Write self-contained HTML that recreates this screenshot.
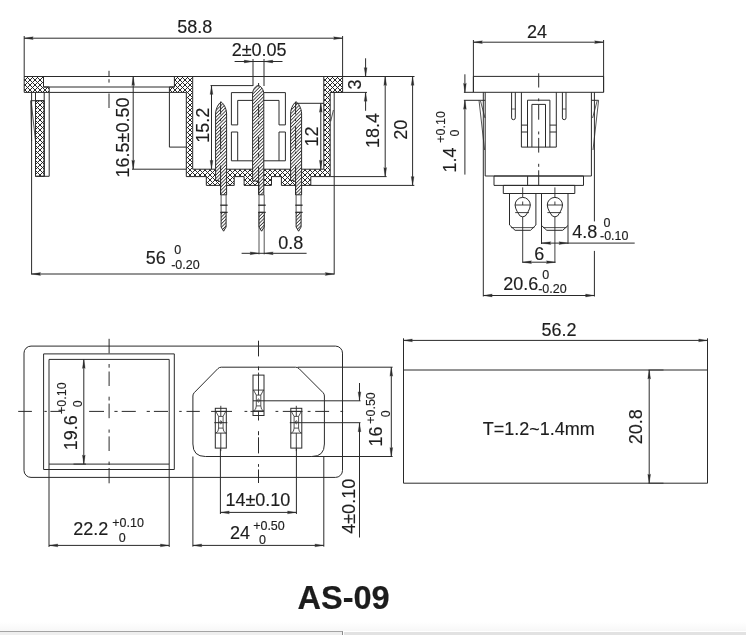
<!DOCTYPE html>
<html><head><meta charset="utf-8"><style>
html,body{margin:0;padding:0;background:#fff;}
body{width:746px;height:635px;overflow:hidden;position:relative;font-family:"Liberation Sans",sans-serif;}
svg{position:absolute;left:0;top:0;will-change:transform;}
text{-webkit-font-smoothing:antialiased;}
.strip1{position:absolute;left:0;top:631px;width:343px;height:4px;background:#efefef;border-top:1px solid #a4a4a4;border-right:1px solid #8a8a8a;box-sizing:border-box;}
.fade{position:absolute;left:0;top:622px;width:746px;height:9px;background:linear-gradient(#ffffff,#f7f7f7);}
.strip2{position:absolute;left:344px;top:632px;width:403px;height:3px;background:#e2e2e2;}
</style></head><body>
<svg width="746" height="635" viewBox="0 0 746 635">
<defs>
<pattern id="xh" patternUnits="userSpaceOnUse" x="0" y="0" width="5" height="5"><g fill="#2a2a2a"><rect x="0" y="0" width="1" height="1"/><rect x="4" y="0" width="1" height="1"/><rect x="1" y="1" width="1" height="1"/><rect x="3" y="1" width="1" height="1"/><rect x="2" y="2" width="1" height="1"/><rect x="3" y="3" width="1" height="1"/><rect x="1" y="3" width="1" height="1"/><rect x="4" y="4" width="1" height="1"/><rect x="0" y="4" width="1" height="1"/></g></pattern>
<pattern id="ph" patternUnits="userSpaceOnUse" width="2.4" height="10" patternTransform="rotate(45)">
<rect x="0" y="0" width="0.85" height="10" fill="#333"/>
</pattern>
</defs>
<rect width="746" height="635" fill="#fff"/>
<line x1="24.2" y1="36" x2="24.2" y2="76.5" stroke="#2a2a2a" stroke-width="1.0" />
<line x1="342.6" y1="36" x2="342.6" y2="76.5" stroke="#2a2a2a" stroke-width="1.0" />
<line x1="24.2" y1="38.2" x2="342.6" y2="38.2" stroke="#2a2a2a" stroke-width="1.0" />
<polygon points="24.20,38.20 33.20,36.80 32.30,38.20 33.20,39.60" fill="#2a2a2a" stroke="#2a2a2a" stroke-width="0.3"/>
<polygon points="342.60,38.20 333.60,39.60 334.50,38.20 333.60,36.80" fill="#2a2a2a" stroke="#2a2a2a" stroke-width="0.3"/>
<text x="194.65" y="33.4" text-anchor="middle" font-family='"Liberation Sans", sans-serif' font-size="18" font-weight="normal" fill="#1e1e1e" stroke="#1e1e1e" stroke-width="0.15">58.8</text>
<line x1="24.2" y1="76.5" x2="414.5" y2="76.5" stroke="#2a2a2a" stroke-width="1.0" />
<polygon points="24.2,76.5 43.5,76.5 43.5,87 49.2,87 49.2,92.4 24.2,92.4" fill="url(#xh)" stroke="#2a2a2a" stroke-width="1.0"/>
<line x1="43.5" y1="87" x2="174.4" y2="87" stroke="#2a2a2a" stroke-width="1.0" />
<line x1="49.2" y1="92.4" x2="169.4" y2="92.4" stroke="#2a2a2a" stroke-width="1.0" />
<line x1="31.6" y1="92.4" x2="31.6" y2="274.5" stroke="#2a2a2a" stroke-width="1.0" />
<line x1="35.5" y1="92.4" x2="35.5" y2="176.3" stroke="#2a2a2a" stroke-width="1.0" />
<polygon points="35.5,100.7 44.2,100.7 44.2,176.3 35.5,176.3" fill="url(#xh)" stroke="#2a2a2a" stroke-width="1.0"/>
<line x1="44.2" y1="92.4" x2="44.2" y2="176.3" stroke="#2a2a2a" stroke-width="1.0" />
<line x1="49.2" y1="92.4" x2="49.2" y2="176.3" stroke="#2a2a2a" stroke-width="1.0" />
<line x1="35.5" y1="176.3" x2="49.2" y2="176.3" stroke="#2a2a2a" stroke-width="1.0" />
<line x1="30.7" y1="100.7" x2="44.2" y2="100.7" stroke="#2a2a2a" stroke-width="1.0" />
<line x1="30.7" y1="100.7" x2="31.6" y2="141" stroke="#2a2a2a" stroke-width="0.8" />
<line x1="31.2" y1="101.5" x2="35.5" y2="141" stroke="#2a2a2a" stroke-width="0.8" />
<polygon points="174.4,76.5 192.7,76.5 192.7,169.2 323.8,169.2 323.8,76.5 342.6,76.5 342.6,92.4 330.2,92.4 330.2,176.6 310.8,176.6 310.8,185.4 281.4,185.4 281.4,176.6 271.5,176.6 271.5,185.4 244.1,185.4 244.1,176.6 234.2,176.6 234.2,185.4 206.3,185.4 206.3,176.6 186.3,176.6 186.3,92.4 169.4,92.4 169.4,87 174.4,87" fill="url(#xh)" stroke="#2a2a2a" stroke-width="1.0"/>
<line x1="334.2" y1="92.4" x2="334.2" y2="274.5" stroke="#2a2a2a" stroke-width="1.0" />
<line x1="333.4" y1="110" x2="330.7" y2="121.4" stroke="#2a2a2a" stroke-width="0.8" />
<line x1="169.4" y1="92.4" x2="169.4" y2="147.1" stroke="#2a2a2a" stroke-width="1.0" />
<line x1="169.4" y1="147.1" x2="186.3" y2="147.1" stroke="#2a2a2a" stroke-width="1.0" />
<path d="M231.4,124.9 V92.6 H285.4 V124.9 H279 V100.4 H237.7 V124.9 Z" fill="none" stroke="#2a2a2a" stroke-width="1.0" />
<path d="M231.4,132 V160.8 H285.4 V132 H279 V160.8 M237.7,160.8 V132 H231.4" fill="none" stroke="#2a2a2a" stroke-width="1.0" />
<path d="M215.6,180.5 V114 C215.6,108 219.1,103 221.1,102 C223.1,103 226.6,108 226.6,114 V194.8 H220.6 V182 L218.2,180.5 Z" fill="#fff" stroke="none"/>
<path d="M215.6,180.5 V114 C215.6,108 219.1,103 221.1,102 C223.1,103 226.6,108 226.6,114 V194.8 H220.6 V182 L218.2,180.5 Z" fill="url(#ph)" stroke="#2a2a2a" stroke-width="1.0"/>
<line x1="221.1" y1="194.8" x2="221.1" y2="212.4" stroke="#2a2a2a" stroke-width="0.8" />
<line x1="226.1" y1="194.8" x2="226.1" y2="212.4" stroke="#2a2a2a" stroke-width="0.8" />
<line x1="220.29999999999998" y1="205.2" x2="227.6" y2="205.2" stroke="#2a2a2a" stroke-width="1.3" />
<line x1="220.29999999999998" y1="212.4" x2="227.6" y2="212.4" stroke="#2a2a2a" stroke-width="1.3" />
<path d="M221.1,212.4 H226.1 V227 L223.6,231.2 L221.1,227 Z" fill="#fff" stroke="none"/>
<path d="M221.1,212.4 H226.1 V227 L223.6,231.2 L221.1,227 Z" fill="url(#ph)" stroke="#2a2a2a" stroke-width="1.0"/>
<path d="M252.6,181 V94 C252.6,89.5 255.6,85.8 258.2,85.6 C260.8,85.8 263.8,89.5 263.8,94 V194.8 H258.8 V182 L256.40000000000003,181 Z" fill="#fff" stroke="none"/>
<path d="M252.6,181 V94 C252.6,89.5 255.6,85.8 258.2,85.6 C260.8,85.8 263.8,89.5 263.8,94 V194.8 H258.8 V182 L256.40000000000003,181 Z" fill="url(#ph)" stroke="#2a2a2a" stroke-width="1.0"/>
<line x1="259.0" y1="194.8" x2="259.0" y2="254.4" stroke="#2a2a2a" stroke-width="0.8" />
<line x1="264.2" y1="194.8" x2="264.2" y2="254.4" stroke="#2a2a2a" stroke-width="0.8" />
<line x1="258.2" y1="205.2" x2="265.7" y2="205.2" stroke="#2a2a2a" stroke-width="1.3" />
<line x1="258.2" y1="212.4" x2="265.7" y2="212.4" stroke="#2a2a2a" stroke-width="1.3" />
<path d="M259.0,212.4 H264.2 V227 L261.6,231.2 L259.0,227 Z" fill="#fff" stroke="none"/>
<path d="M259.0,212.4 H264.2 V227 L261.6,231.2 L259.0,227 Z" fill="url(#ph)" stroke="#2a2a2a" stroke-width="1.0"/>
<path d="M290.6,180.5 V113.8 C290.6,107.8 294.1,102.8 296.1,101.8 C298.1,102.8 301.6,107.8 301.6,113.8 V194.8 H295.6 V182 L293.20000000000005,180.5 Z" fill="#fff" stroke="none"/>
<path d="M290.6,180.5 V113.8 C290.6,107.8 294.1,102.8 296.1,101.8 C298.1,102.8 301.6,107.8 301.6,113.8 V194.8 H295.6 V182 L293.20000000000005,180.5 Z" fill="url(#ph)" stroke="#2a2a2a" stroke-width="1.0"/>
<line x1="296.1" y1="194.8" x2="296.1" y2="212.4" stroke="#2a2a2a" stroke-width="0.8" />
<line x1="301.1" y1="194.8" x2="301.1" y2="212.4" stroke="#2a2a2a" stroke-width="0.8" />
<line x1="295.3" y1="205.2" x2="302.6" y2="205.2" stroke="#2a2a2a" stroke-width="1.3" />
<line x1="295.3" y1="212.4" x2="302.6" y2="212.4" stroke="#2a2a2a" stroke-width="1.3" />
<path d="M296.1,212.4 H301.1 V227 L298.6,231.2 L296.1,227 Z" fill="#fff" stroke="none"/>
<path d="M296.1,212.4 H301.1 V227 L298.6,231.2 L296.1,227 Z" fill="url(#ph)" stroke="#2a2a2a" stroke-width="1.0"/>
<line x1="258.6" y1="83" x2="258.6" y2="86.5" stroke="#2a2a2a" stroke-width="1.0" />
<line x1="258.6" y1="104.2" x2="258.6" y2="117.2" stroke="#2a2a2a" stroke-width="1.0" />
<line x1="258.6" y1="121.5" x2="258.6" y2="124.5" stroke="#2a2a2a" stroke-width="1.0" />
<line x1="258.6" y1="136.6" x2="258.6" y2="149.8" stroke="#2a2a2a" stroke-width="1.0" />
<line x1="258.6" y1="153.1" x2="258.6" y2="157.5" stroke="#2a2a2a" stroke-width="1.0" />
<line x1="258.6" y1="166.4" x2="258.6" y2="194.8" stroke="#2a2a2a" stroke-width="1.0" />
<line x1="220.6" y1="101.6" x2="220.6" y2="114.5" stroke="#2a2a2a" stroke-width="1.0" />
<line x1="220.6" y1="118.7" x2="220.6" y2="121.2" stroke="#2a2a2a" stroke-width="1.0" />
<line x1="220.6" y1="126.2" x2="220.6" y2="149.2" stroke="#2a2a2a" stroke-width="1.0" />
<line x1="220.6" y1="151.7" x2="220.6" y2="153.8" stroke="#2a2a2a" stroke-width="1.0" />
<line x1="220.6" y1="165.5" x2="220.6" y2="194.8" stroke="#2a2a2a" stroke-width="1.0" />
<line x1="295.6" y1="101.8" x2="295.6" y2="114.5" stroke="#2a2a2a" stroke-width="1.0" />
<line x1="295.6" y1="118.7" x2="295.6" y2="121.2" stroke="#2a2a2a" stroke-width="1.0" />
<line x1="295.6" y1="126.2" x2="295.6" y2="149.2" stroke="#2a2a2a" stroke-width="1.0" />
<line x1="295.6" y1="151.7" x2="295.6" y2="153.8" stroke="#2a2a2a" stroke-width="1.0" />
<line x1="295.6" y1="165.5" x2="295.6" y2="194.8" stroke="#2a2a2a" stroke-width="1.0" />
<line x1="109" y1="70.8" x2="109" y2="76.1" stroke="#2a2a2a" stroke-width="1.0" />
<line x1="109" y1="79.2" x2="109" y2="82.6" stroke="#2a2a2a" stroke-width="1.0" />
<line x1="109" y1="93.5" x2="109" y2="108" stroke="#2a2a2a" stroke-width="1.0" />
<line x1="133.2" y1="76.5" x2="133.2" y2="169.2" stroke="#2a2a2a" stroke-width="1.0" />
<polygon points="133.20,76.50 134.60,85.50 133.20,84.60 131.80,85.50" fill="#2a2a2a" stroke="#2a2a2a" stroke-width="0.3"/>
<polygon points="133.20,169.20 131.80,160.20 133.20,161.10 134.60,160.20" fill="#2a2a2a" stroke="#2a2a2a" stroke-width="0.3"/>
<line x1="132" y1="169.2" x2="186.3" y2="169.2" stroke="#2a2a2a" stroke-width="1.0" />
<text transform="translate(128.9,137.45) rotate(-90)" text-anchor="middle" font-family='"Liberation Sans", sans-serif' font-size="18" font-weight="normal" fill="#1e1e1e" stroke="#1e1e1e" stroke-width="0.15">16.5±0.50</text>
<line x1="211.5" y1="85.6" x2="211.5" y2="169.2" stroke="#2a2a2a" stroke-width="1.0" />
<polygon points="211.50,85.60 212.90,94.60 211.50,93.70 210.10,94.60" fill="#2a2a2a" stroke="#2a2a2a" stroke-width="0.3"/>
<polygon points="211.50,169.20 210.10,160.20 211.50,161.10 212.90,160.20" fill="#2a2a2a" stroke="#2a2a2a" stroke-width="0.3"/>
<line x1="210.5" y1="85.6" x2="253" y2="85.6" stroke="#2a2a2a" stroke-width="1.0" />
<text transform="translate(209.3,125.15) rotate(-90)" text-anchor="middle" font-family='"Liberation Sans", sans-serif' font-size="18" font-weight="normal" fill="#1e1e1e" stroke="#1e1e1e" stroke-width="0.15">15.2</text>
<line x1="253" y1="59" x2="253" y2="86" stroke="#2a2a2a" stroke-width="1.0" />
<line x1="264" y1="59" x2="264" y2="86" stroke="#2a2a2a" stroke-width="1.0" />
<line x1="234.6" y1="61.5" x2="282.5" y2="61.5" stroke="#2a2a2a" stroke-width="1.0" />
<polygon points="253.00,61.50 244.00,62.90 244.90,61.50 244.00,60.10" fill="#2a2a2a" stroke="#2a2a2a" stroke-width="0.3"/>
<polygon points="264.00,61.50 273.00,60.10 272.10,61.50 273.00,62.90" fill="#2a2a2a" stroke="#2a2a2a" stroke-width="0.3"/>
<text x="259.1" y="56.1" text-anchor="middle" font-family='"Liberation Sans", sans-serif' font-size="18" font-weight="normal" fill="#1e1e1e" stroke="#1e1e1e" stroke-width="0.15">2±0.05</text>
<line x1="296" y1="103.3" x2="324" y2="103.3" stroke="#2a2a2a" stroke-width="1.0" />
<line x1="320.8" y1="103.3" x2="320.8" y2="169.2" stroke="#2a2a2a" stroke-width="1.0" />
<polygon points="320.80,103.30 322.20,112.30 320.80,111.40 319.40,112.30" fill="#2a2a2a" stroke="#2a2a2a" stroke-width="0.3"/>
<polygon points="320.80,169.20 319.40,160.20 320.80,161.10 322.20,160.20" fill="#2a2a2a" stroke="#2a2a2a" stroke-width="0.3"/>
<text transform="translate(317.9,136.55) rotate(-90)" text-anchor="middle" font-family='"Liberation Sans", sans-serif' font-size="18" font-weight="normal" fill="#1e1e1e" stroke="#1e1e1e" stroke-width="0.15">12</text>
<line x1="365.6" y1="58.3" x2="365.6" y2="76.5" stroke="#2a2a2a" stroke-width="1.0" />
<polygon points="365.60,76.50 364.20,67.50 365.60,68.40 367.00,67.50" fill="#2a2a2a" stroke="#2a2a2a" stroke-width="0.3"/>
<line x1="365.6" y1="92.4" x2="365.6" y2="110.8" stroke="#2a2a2a" stroke-width="1.0" />
<polygon points="365.60,92.40 367.00,101.40 365.60,100.50 364.20,101.40" fill="#2a2a2a" stroke="#2a2a2a" stroke-width="0.3"/>
<line x1="330.2" y1="92.4" x2="367" y2="92.4" stroke="#2a2a2a" stroke-width="1.0" />
<text transform="translate(361.0,84.45) rotate(-90)" text-anchor="middle" font-family='"Liberation Sans", sans-serif' font-size="18" font-weight="normal" fill="#1e1e1e" stroke="#1e1e1e" stroke-width="0.15">3</text>
<line x1="385.2" y1="76.5" x2="385.2" y2="176.6" stroke="#2a2a2a" stroke-width="1.0" />
<polygon points="385.20,76.50 386.60,85.50 385.20,84.60 383.80,85.50" fill="#2a2a2a" stroke="#2a2a2a" stroke-width="0.3"/>
<polygon points="385.20,176.60 383.80,167.60 385.20,168.50 386.60,167.60" fill="#2a2a2a" stroke="#2a2a2a" stroke-width="0.3"/>
<line x1="330.2" y1="176.6" x2="386.6" y2="176.6" stroke="#2a2a2a" stroke-width="1.0" />
<text transform="translate(379.4,130.45) rotate(-90)" text-anchor="middle" font-family='"Liberation Sans", sans-serif' font-size="18" font-weight="normal" fill="#1e1e1e" stroke="#1e1e1e" stroke-width="0.15">18.4</text>
<line x1="412.6" y1="76.5" x2="412.6" y2="185.4" stroke="#2a2a2a" stroke-width="1.0" />
<polygon points="412.60,76.50 414.00,85.50 412.60,84.60 411.20,85.50" fill="#2a2a2a" stroke="#2a2a2a" stroke-width="0.3"/>
<polygon points="412.60,185.40 411.20,176.40 412.60,177.30 414.00,176.40" fill="#2a2a2a" stroke="#2a2a2a" stroke-width="0.3"/>
<line x1="310.8" y1="185.4" x2="414.3" y2="185.4" stroke="#2a2a2a" stroke-width="1.0" />
<text transform="translate(406.8,129.75) rotate(-90)" text-anchor="middle" font-family='"Liberation Sans", sans-serif' font-size="18" font-weight="normal" fill="#1e1e1e" stroke="#1e1e1e" stroke-width="0.15">20</text>
<line x1="31.6" y1="274" x2="334.2" y2="274" stroke="#2a2a2a" stroke-width="1.0" />
<polygon points="31.60,274.00 40.60,272.60 39.70,274.00 40.60,275.40" fill="#2a2a2a" stroke="#2a2a2a" stroke-width="0.3"/>
<polygon points="334.20,274.00 325.20,275.40 326.10,274.00 325.20,272.60" fill="#2a2a2a" stroke="#2a2a2a" stroke-width="0.3"/>
<text x="155.8" y="264.4" text-anchor="middle" font-family='"Liberation Sans", sans-serif' font-size="18" font-weight="normal" fill="#1e1e1e" stroke="#1e1e1e" stroke-width="0.15">56</text>
<text x="177.7" y="253.9" text-anchor="middle" font-family='"Liberation Sans", sans-serif' font-size="12.5" font-weight="normal" fill="#1e1e1e" stroke="#1e1e1e" stroke-width="0.15">0</text>
<text x="185.45" y="268.6" text-anchor="middle" font-family='"Liberation Sans", sans-serif' font-size="12.5" font-weight="normal" fill="#1e1e1e" stroke="#1e1e1e" stroke-width="0.15">-0.20</text>
<line x1="241.6" y1="253.3" x2="306.6" y2="253.3" stroke="#2a2a2a" stroke-width="1.0" />
<polygon points="259.00,253.30 250.00,254.70 250.90,253.30 250.00,251.90" fill="#2a2a2a" stroke="#2a2a2a" stroke-width="0.3"/>
<polygon points="264.20,253.30 273.20,251.90 272.30,253.30 273.20,254.70" fill="#2a2a2a" stroke="#2a2a2a" stroke-width="0.3"/>
<text x="290.8" y="248.95" text-anchor="middle" font-family='"Liberation Sans", sans-serif' font-size="18" font-weight="normal" fill="#1e1e1e" stroke="#1e1e1e" stroke-width="0.15">0.8</text>
<line x1="473.4" y1="40" x2="473.4" y2="92.3" stroke="#2a2a2a" stroke-width="1.0" />
<line x1="603.6" y1="40" x2="603.6" y2="92.3" stroke="#2a2a2a" stroke-width="1.0" />
<line x1="473.4" y1="42.2" x2="603.6" y2="42.2" stroke="#2a2a2a" stroke-width="1.0" />
<polygon points="473.40,42.20 482.40,40.80 481.50,42.20 482.40,43.60" fill="#2a2a2a" stroke="#2a2a2a" stroke-width="0.3"/>
<polygon points="603.60,42.20 594.60,43.60 595.50,42.20 594.60,40.80" fill="#2a2a2a" stroke="#2a2a2a" stroke-width="0.3"/>
<text x="537.05" y="37.8" text-anchor="middle" font-family='"Liberation Sans", sans-serif' font-size="18" font-weight="normal" fill="#1e1e1e" stroke="#1e1e1e" stroke-width="0.15">24</text>
<polygon points="473.4,76.4 603.6,76.4 603.6,92.3 473.4,92.3" fill="none" stroke="#2a2a2a" stroke-width="1.0" />
<line x1="463.9" y1="92.3" x2="473.4" y2="92.3" stroke="#2a2a2a" stroke-width="1.0" />
<line x1="464.9" y1="74.3" x2="464.9" y2="92.3" stroke="#2a2a2a" stroke-width="1.0" />
<polygon points="464.90,92.30 463.50,83.30 464.90,84.20 466.30,83.30" fill="#2a2a2a" stroke="#2a2a2a" stroke-width="0.3"/>
<line x1="464.9" y1="100.3" x2="464.9" y2="174.6" stroke="#2a2a2a" stroke-width="1.0" />
<polygon points="464.90,100.30 466.30,109.30 464.90,108.40 463.50,109.30" fill="#2a2a2a" stroke="#2a2a2a" stroke-width="0.3"/>
<line x1="463.9" y1="100.3" x2="485.2" y2="100.3" stroke="#2a2a2a" stroke-width="1.0" />
<text transform="translate(455.9,159.9) rotate(-90)" text-anchor="middle" font-family='"Liberation Sans", sans-serif' font-size="18" font-weight="normal" fill="#1e1e1e" stroke="#1e1e1e" stroke-width="0.15">1.4</text>
<text transform="translate(444.7,126.9) rotate(-90)" text-anchor="middle" font-family='"Liberation Sans", sans-serif' font-size="12.5" font-weight="normal" fill="#1e1e1e" stroke="#1e1e1e" stroke-width="0.15">+0.10</text>
<text transform="translate(459.2,133.0) rotate(-90)" text-anchor="middle" font-family='"Liberation Sans", sans-serif' font-size="12.5" font-weight="normal" fill="#1e1e1e" stroke="#1e1e1e" stroke-width="0.15">0</text>
<line x1="483.3" y1="92.3" x2="483.3" y2="296.5" stroke="#2a2a2a" stroke-width="1.0" />
<line x1="485.2" y1="92.3" x2="485.2" y2="176" stroke="#2a2a2a" stroke-width="1.0" />
<line x1="591.4" y1="92.3" x2="591.4" y2="176" stroke="#2a2a2a" stroke-width="1.0" />
<line x1="594.4" y1="92.3" x2="594.4" y2="221.4" stroke="#2a2a2a" stroke-width="1.0" />
<line x1="594.4" y1="250.9" x2="594.4" y2="296.5" stroke="#2a2a2a" stroke-width="1.0" />
<line x1="485.2" y1="176" x2="591.4" y2="176" stroke="#2a2a2a" stroke-width="1.0" />
<line x1="479" y1="100.3" x2="484.6" y2="150" stroke="#2a2a2a" stroke-width="0.8" />
<line x1="480.5" y1="101" x2="485" y2="118" stroke="#2a2a2a" stroke-width="0.8" />
<line x1="598.6" y1="100.3" x2="593" y2="150" stroke="#2a2a2a" stroke-width="0.8" />
<line x1="597.1" y1="101" x2="592.6" y2="118" stroke="#2a2a2a" stroke-width="0.8" />
<line x1="591.4" y1="100.3" x2="598.6" y2="100.3" stroke="#2a2a2a" stroke-width="1.0" />
<path d="M511.6,92.3 V117.9 Q511.6,119.7 513.45,119.7 Q515.3,119.7 515.3,117.9 V92.3" fill="none" stroke="#2a2a2a" stroke-width="1.0" />
<path d="M562.4,92.3 V117.9 Q562.4,119.7 564.2,119.7 Q566,119.7 566,117.9 V92.3" fill="none" stroke="#2a2a2a" stroke-width="1.0" />
<line x1="511.6" y1="109" x2="515.3" y2="109" stroke="#2a2a2a" stroke-width="0.7" />
<line x1="562.4" y1="109" x2="566" y2="109" stroke="#2a2a2a" stroke-width="0.7" />
<path d="M521.4,92.3 V147.1 H556.3 V92.3" fill="none" stroke="#2a2a2a" stroke-width="1.0" />
<path d="M527.5,147.1 V100.2 H549.9 V147.1" fill="none" stroke="#2a2a2a" stroke-width="1.0" />
<path d="M531.9,147.1 V104.4 H545.5 V147.1" fill="none" stroke="#2a2a2a" stroke-width="1.0" />
<line x1="521.4" y1="125.1" x2="527.5" y2="125.1" stroke="#2a2a2a" stroke-width="1.0" />
<line x1="521.4" y1="132" x2="527.5" y2="132" stroke="#2a2a2a" stroke-width="1.0" />
<line x1="549.9" y1="125.1" x2="556.3" y2="125.1" stroke="#2a2a2a" stroke-width="1.0" />
<line x1="549.9" y1="132" x2="556.3" y2="132" stroke="#2a2a2a" stroke-width="1.0" />
<polygon points="494,176 583.5,176 583.5,185.4 494,185.4" fill="none" stroke="#2a2a2a" stroke-width="1.0" />
<line x1="527.6" y1="176" x2="527.6" y2="185.4" stroke="#2a2a2a" stroke-width="1.0" />
<polygon points="503.3,185.4 574.8,185.4 574.8,193.5 503.3,193.5" fill="none" stroke="#2a2a2a" stroke-width="1.0" />
<path d="M509.5,193.5 V225 L515.1,230.3 H530.5 L535.9,225 V193.5" fill="none" stroke="#2a2a2a" stroke-width="1.0" />
<line x1="541.5" y1="193.5" x2="541.5" y2="244" stroke="#2a2a2a" stroke-width="1.0" />
<line x1="568" y1="193.5" x2="568" y2="244" stroke="#2a2a2a" stroke-width="1.0" />
<path d="M541.5,225.5 L546.8,230.3 H562.7 L568,225.5" fill="none" stroke="#2a2a2a" stroke-width="1.0" />
<line x1="511" y1="227.6" x2="534.4" y2="227.6" stroke="#2a2a2a" stroke-width="0.8" />
<line x1="543" y1="227.6" x2="566.5" y2="227.6" stroke="#2a2a2a" stroke-width="0.8" />
<path d="M515.1,205 A7.6,7.6 0 0 1 530.3000000000001,205 C530.3000000000001,209 526.9000000000001,213.8 525.3000000000001,216 Q522.7,217.6 520.1,216 C518.5,213.8 515.1,209 515.1,205 Z" fill="none" stroke="#2a2a2a" stroke-width="1.0" />
<line x1="514.9000000000001" y1="205" x2="530.5" y2="205" stroke="#2a2a2a" stroke-width="0.9" />
<line x1="515.2" y1="212.6" x2="529.0" y2="212.6" stroke="#2a2a2a" stroke-width="0.9" />
<line x1="522.7" y1="187.4" x2="522.7" y2="197.4" stroke="#2a2a2a" stroke-width="0.9" />
<line x1="522.7" y1="201.5" x2="522.7" y2="205" stroke="#2a2a2a" stroke-width="0.9" />
<line x1="522.7" y1="217" x2="522.7" y2="262.7" stroke="#2a2a2a" stroke-width="0.9" />
<path d="M547.3,205 A7.6,7.6 0 0 1 562.5,205 C562.5,209 559.1,213.8 557.5,216 Q554.9,217.6 552.3,216 C550.6999999999999,213.8 547.3,209 547.3,205 Z" fill="none" stroke="#2a2a2a" stroke-width="1.0" />
<line x1="547.1" y1="205" x2="562.6999999999999" y2="205" stroke="#2a2a2a" stroke-width="0.9" />
<line x1="547.4" y1="212.6" x2="561.1999999999999" y2="212.6" stroke="#2a2a2a" stroke-width="0.9" />
<line x1="554.9" y1="187.4" x2="554.9" y2="197.4" stroke="#2a2a2a" stroke-width="0.9" />
<line x1="554.9" y1="201.5" x2="554.9" y2="205" stroke="#2a2a2a" stroke-width="0.9" />
<line x1="554.9" y1="217" x2="554.9" y2="262.7" stroke="#2a2a2a" stroke-width="0.9" />
<line x1="538.7" y1="73.3" x2="538.7" y2="87.5" stroke="#2a2a2a" stroke-width="1.0" />
<line x1="538.7" y1="98.4" x2="538.7" y2="101.2" stroke="#2a2a2a" stroke-width="1.0" />
<line x1="538.7" y1="105" x2="538.7" y2="119.7" stroke="#2a2a2a" stroke-width="1.0" />
<line x1="538.7" y1="131.5" x2="538.7" y2="134.4" stroke="#2a2a2a" stroke-width="1.0" />
<line x1="538.7" y1="137.9" x2="538.7" y2="152.6" stroke="#2a2a2a" stroke-width="1.0" />
<line x1="538.7" y1="163.8" x2="538.7" y2="166.8" stroke="#2a2a2a" stroke-width="1.0" />
<line x1="538.7" y1="170.3" x2="538.7" y2="185.6" stroke="#2a2a2a" stroke-width="1.0" />
<line x1="522.5" y1="262.2" x2="555.4" y2="262.2" stroke="#2a2a2a" stroke-width="1.0" />
<polygon points="522.50,262.20 531.50,260.80 530.60,262.20 531.50,263.60" fill="#2a2a2a" stroke="#2a2a2a" stroke-width="0.3"/>
<polygon points="555.40,262.20 546.40,263.60 547.30,262.20 546.40,260.80" fill="#2a2a2a" stroke="#2a2a2a" stroke-width="0.3"/>
<text x="539.2" y="260.1" text-anchor="middle" font-family='"Liberation Sans", sans-serif' font-size="18" font-weight="normal" fill="#1e1e1e" stroke="#1e1e1e" stroke-width="0.15">6</text>
<line x1="541.8" y1="243.1" x2="634.7" y2="243.1" stroke="#2a2a2a" stroke-width="1.0" />
<polygon points="541.80,243.10 550.80,241.70 549.90,243.10 550.80,244.50" fill="#2a2a2a" stroke="#2a2a2a" stroke-width="0.3"/>
<polygon points="568.00,243.10 559.00,244.50 559.90,243.10 559.00,241.70" fill="#2a2a2a" stroke="#2a2a2a" stroke-width="0.3"/>
<text x="584.85" y="237.6" text-anchor="middle" font-family='"Liberation Sans", sans-serif' font-size="18" font-weight="normal" fill="#1e1e1e" stroke="#1e1e1e" stroke-width="0.15">4.8</text>
<text x="606.95" y="227.0" text-anchor="middle" font-family='"Liberation Sans", sans-serif' font-size="12.5" font-weight="normal" fill="#1e1e1e" stroke="#1e1e1e" stroke-width="0.15">0</text>
<text x="614.25" y="240.4" text-anchor="middle" font-family='"Liberation Sans", sans-serif' font-size="12.5" font-weight="normal" fill="#1e1e1e" stroke="#1e1e1e" stroke-width="0.15">-0.10</text>
<line x1="483.3" y1="295.5" x2="594.4" y2="295.5" stroke="#2a2a2a" stroke-width="1.0" />
<polygon points="483.30,295.50 492.30,294.10 491.40,295.50 492.30,296.90" fill="#2a2a2a" stroke="#2a2a2a" stroke-width="0.3"/>
<polygon points="594.40,295.50 585.40,296.90 586.30,295.50 585.40,294.10" fill="#2a2a2a" stroke="#2a2a2a" stroke-width="0.3"/>
<text x="520.7" y="289.6" text-anchor="middle" font-family='"Liberation Sans", sans-serif' font-size="18" font-weight="normal" fill="#1e1e1e" stroke="#1e1e1e" stroke-width="0.15">20.6</text>
<text x="545.85" y="279.4" text-anchor="middle" font-family='"Liberation Sans", sans-serif' font-size="12.5" font-weight="normal" fill="#1e1e1e" stroke="#1e1e1e" stroke-width="0.15">0</text>
<text x="552.4" y="292.6" text-anchor="middle" font-family='"Liberation Sans", sans-serif' font-size="12.5" font-weight="normal" fill="#1e1e1e" stroke="#1e1e1e" stroke-width="0.15">-0.20</text>
<rect x="24" y="346.1" width="318.5" height="131.3" rx="7" ry="7" fill="none" stroke="#2a2a2a" stroke-width="1.0"/>
<polygon points="43.6,353.9 174.3,353.9 174.3,469.5 43.6,469.5" fill="none" stroke="#2a2a2a" stroke-width="1.0" />
<polygon points="49,359.4 169.2,359.4 169.2,464.1 49,464.1" fill="none" stroke="#2a2a2a" stroke-width="1.0" />
<line x1="109.1" y1="338.8" x2="109.1" y2="353.3" stroke="#2a2a2a" stroke-width="1.0" />
<line x1="109.1" y1="364" x2="109.1" y2="367.7" stroke="#2a2a2a" stroke-width="1.0" />
<line x1="109.1" y1="371.5" x2="109.1" y2="386" stroke="#2a2a2a" stroke-width="1.0" />
<line x1="109.1" y1="396.7" x2="109.1" y2="400.5" stroke="#2a2a2a" stroke-width="1.0" />
<line x1="109.1" y1="403.6" x2="109.1" y2="418.2" stroke="#2a2a2a" stroke-width="1.0" />
<line x1="109.1" y1="429.5" x2="109.1" y2="432.7" stroke="#2a2a2a" stroke-width="1.0" />
<line x1="109.1" y1="436.4" x2="109.1" y2="451" stroke="#2a2a2a" stroke-width="1.0" />
<line x1="109.1" y1="461.6" x2="109.1" y2="465" stroke="#2a2a2a" stroke-width="1.0" />
<line x1="109.1" y1="468" x2="109.1" y2="483.3" stroke="#2a2a2a" stroke-width="1.0" />
<line x1="18.2" y1="411.4" x2="31.9" y2="411.4" stroke="#2a2a2a" stroke-width="1.0" />
<line x1="44.4" y1="411.4" x2="46.8" y2="411.4" stroke="#2a2a2a" stroke-width="1.0" />
<line x1="50.4" y1="411.4" x2="61" y2="411.4" stroke="#2a2a2a" stroke-width="1.0" />
<line x1="89.1" y1="411.4" x2="104" y2="411.4" stroke="#2a2a2a" stroke-width="1.0" />
<line x1="114.4" y1="411.4" x2="117.6" y2="411.4" stroke="#2a2a2a" stroke-width="1.0" />
<line x1="121.7" y1="411.4" x2="135.8" y2="411.4" stroke="#2a2a2a" stroke-width="1.0" />
<line x1="146.7" y1="411.4" x2="149.9" y2="411.4" stroke="#2a2a2a" stroke-width="1.0" />
<line x1="153.9" y1="411.4" x2="168" y2="411.4" stroke="#2a2a2a" stroke-width="1.0" />
<line x1="179.2" y1="411.4" x2="181.7" y2="411.4" stroke="#2a2a2a" stroke-width="1.0" />
<line x1="186.5" y1="411.4" x2="199.8" y2="411.4" stroke="#2a2a2a" stroke-width="1.0" />
<line x1="211.1" y1="411.4" x2="232" y2="411.4" stroke="#2a2a2a" stroke-width="1.0" />
<line x1="244.5" y1="411.4" x2="247.3" y2="411.4" stroke="#2a2a2a" stroke-width="1.0" />
<line x1="250.5" y1="411.4" x2="263.8" y2="411.4" stroke="#2a2a2a" stroke-width="1.0" />
<line x1="275.5" y1="411.4" x2="278.3" y2="411.4" stroke="#2a2a2a" stroke-width="1.0" />
<line x1="282.8" y1="411.4" x2="302.5" y2="411.4" stroke="#2a2a2a" stroke-width="1.0" />
<line x1="307.7" y1="411.4" x2="310.5" y2="411.4" stroke="#2a2a2a" stroke-width="1.0" />
<line x1="315.2" y1="411.4" x2="329.1" y2="411.4" stroke="#2a2a2a" stroke-width="1.0" />
<line x1="340.4" y1="411.4" x2="343.1" y2="411.4" stroke="#2a2a2a" stroke-width="1.0" />
<line x1="258.5" y1="340.7" x2="258.5" y2="356.4" stroke="#2a2a2a" stroke-width="1.0" />
<line x1="258.5" y1="366.5" x2="258.5" y2="370.3" stroke="#2a2a2a" stroke-width="1.0" />
<line x1="258.5" y1="418" x2="258.5" y2="420.5" stroke="#2a2a2a" stroke-width="1.0" />
<line x1="258.5" y1="431.2" x2="258.5" y2="435.2" stroke="#2a2a2a" stroke-width="1.0" />
<line x1="258.5" y1="437.3" x2="258.5" y2="453.4" stroke="#2a2a2a" stroke-width="1.0" />
<line x1="258.5" y1="464.1" x2="258.5" y2="466.8" stroke="#2a2a2a" stroke-width="1.0" />
<line x1="258.5" y1="469.5" x2="258.5" y2="483" stroke="#2a2a2a" stroke-width="1.0" />
<path d="M192.9,396 Q192.9,394 194.3,392.6 L217.9,368.6 Q219.3,367.2 221.3,367.2 H295.6 Q297.6,367.2 299,368.6 L323,392.6 Q324.4,394 324.4,396 V444 Q324.4,456.5 311.9,456.5 H205.4 Q192.9,456.5 192.9,444 Z" fill="none" stroke="#2a2a2a" stroke-width="1.0" />
<rect x="253" y="375.1" width="11" height="40.39999999999998" fill="none" stroke="#2a2a2a" stroke-width="1.0"/>
<line x1="253" y1="390.1" x2="264" y2="390.1" stroke="#2a2a2a" stroke-width="0.9" />
<line x1="253" y1="410.9" x2="264" y2="410.9" stroke="#2a2a2a" stroke-width="0.9" />
<path d="M253.5,390.1 L256.3,395.1 V405.9 Q256.3,409.9 253.5,410.9 M263.5,390.1 L260.8,395.1 V405.9 Q260.8,409.9 263.5,410.9" fill="none" stroke="#2a2a2a" stroke-width="0.8" />
<line x1="256.3" y1="395.1" x2="260.8" y2="395.1" stroke="#2a2a2a" stroke-width="0.8" />
<line x1="256.3" y1="405.9" x2="260.8" y2="405.9" stroke="#2a2a2a" stroke-width="0.8" />
<ellipse cx="258.5" cy="400.5" rx="0.8" ry="1.6" fill="none" stroke="#2a2a2a" stroke-width="0.8"/>
<line x1="258.5" y1="372.6" x2="258.5" y2="395.1" stroke="#2a2a2a" stroke-width="0.9" />
<line x1="258.5" y1="410.9" x2="258.5" y2="418.5" stroke="#2a2a2a" stroke-width="0.9" />
<rect x="215.3" y="408.3" width="11.0" height="39.80000000000001" fill="none" stroke="#2a2a2a" stroke-width="1.0"/>
<line x1="215.3" y1="411.40000000000003" x2="226.3" y2="411.40000000000003" stroke="#2a2a2a" stroke-width="0.9" />
<line x1="215.3" y1="433.1" x2="226.3" y2="433.1" stroke="#2a2a2a" stroke-width="0.9" />
<path d="M215.8,411.40000000000003 L218.60000000000002,416.40000000000003 V428.1 Q218.60000000000002,432.1 215.8,433.1 M225.8,411.40000000000003 L223.10000000000002,416.40000000000003 V428.1 Q223.10000000000002,432.1 225.8,433.1" fill="none" stroke="#2a2a2a" stroke-width="0.8" />
<line x1="218.60000000000002" y1="416.40000000000003" x2="223.10000000000002" y2="416.40000000000003" stroke="#2a2a2a" stroke-width="0.8" />
<line x1="218.60000000000002" y1="428.1" x2="223.10000000000002" y2="428.1" stroke="#2a2a2a" stroke-width="0.8" />
<ellipse cx="220.8" cy="422.25" rx="0.8" ry="1.6" fill="none" stroke="#2a2a2a" stroke-width="0.8"/>
<line x1="220.8" y1="405.8" x2="220.8" y2="416.40000000000003" stroke="#2a2a2a" stroke-width="0.9" />
<line x1="220.8" y1="433.1" x2="220.8" y2="451.1" stroke="#2a2a2a" stroke-width="0.9" />
<rect x="290.8" y="408.3" width="11.0" height="39.80000000000001" fill="none" stroke="#2a2a2a" stroke-width="1.0"/>
<line x1="290.8" y1="411.40000000000003" x2="301.8" y2="411.40000000000003" stroke="#2a2a2a" stroke-width="0.9" />
<line x1="290.8" y1="433.1" x2="301.8" y2="433.1" stroke="#2a2a2a" stroke-width="0.9" />
<path d="M291.3,411.40000000000003 L294.1,416.40000000000003 V428.1 Q294.1,432.1 291.3,433.1 M301.3,411.40000000000003 L298.6,416.40000000000003 V428.1 Q298.6,432.1 301.3,433.1" fill="none" stroke="#2a2a2a" stroke-width="0.8" />
<line x1="294.1" y1="416.40000000000003" x2="298.6" y2="416.40000000000003" stroke="#2a2a2a" stroke-width="0.8" />
<line x1="294.1" y1="428.1" x2="298.6" y2="428.1" stroke="#2a2a2a" stroke-width="0.8" />
<ellipse cx="296.3" cy="422.25" rx="0.8" ry="1.6" fill="none" stroke="#2a2a2a" stroke-width="0.8"/>
<line x1="296.3" y1="405.8" x2="296.3" y2="416.40000000000003" stroke="#2a2a2a" stroke-width="0.9" />
<line x1="296.3" y1="433.1" x2="296.3" y2="451.1" stroke="#2a2a2a" stroke-width="0.9" />
<line x1="253" y1="400.8" x2="360.5" y2="400.8" stroke="#2a2a2a" stroke-width="1.0" />
<line x1="289.8" y1="422.7" x2="360.5" y2="422.7" stroke="#2a2a2a" stroke-width="1.0" />
<line x1="214.3" y1="422.7" x2="227.3" y2="422.7" stroke="#2a2a2a" stroke-width="1.0" />
<line x1="297.6" y1="367.2" x2="392.6" y2="367.2" stroke="#2a2a2a" stroke-width="1.0" />
<line x1="312" y1="456.5" x2="392.6" y2="456.5" stroke="#2a2a2a" stroke-width="1.0" />
<line x1="359.5" y1="383" x2="359.5" y2="400.8" stroke="#2a2a2a" stroke-width="1.0" />
<polygon points="359.50,400.80 358.10,391.80 359.50,392.70 360.90,391.80" fill="#2a2a2a" stroke="#2a2a2a" stroke-width="0.3"/>
<line x1="359.5" y1="422.9" x2="359.5" y2="537.5" stroke="#2a2a2a" stroke-width="1.0" />
<polygon points="359.50,422.90 360.90,431.90 359.50,431.00 358.10,431.90" fill="#2a2a2a" stroke="#2a2a2a" stroke-width="0.3"/>
<text transform="translate(354.5,506.3) rotate(-90)" text-anchor="middle" font-family='"Liberation Sans", sans-serif' font-size="18" font-weight="normal" fill="#1e1e1e" stroke="#1e1e1e" stroke-width="0.15">4±0.10</text>
<line x1="391.3" y1="367.2" x2="391.3" y2="456.5" stroke="#2a2a2a" stroke-width="1.0" />
<polygon points="391.30,367.20 392.70,376.20 391.30,375.30 389.90,376.20" fill="#2a2a2a" stroke="#2a2a2a" stroke-width="0.3"/>
<polygon points="391.30,456.50 389.90,447.50 391.30,448.40 392.70,447.50" fill="#2a2a2a" stroke="#2a2a2a" stroke-width="0.3"/>
<text transform="translate(382.1,436.5) rotate(-90)" text-anchor="middle" font-family='"Liberation Sans", sans-serif' font-size="18" font-weight="normal" fill="#1e1e1e" stroke="#1e1e1e" stroke-width="0.15">16</text>
<text transform="translate(374.7,408.0) rotate(-90)" text-anchor="middle" font-family='"Liberation Sans", sans-serif' font-size="12.5" font-weight="normal" fill="#1e1e1e" stroke="#1e1e1e" stroke-width="0.15">+0.50</text>
<text transform="translate(389.6,413.85) rotate(-90)" text-anchor="middle" font-family='"Liberation Sans", sans-serif' font-size="12.5" font-weight="normal" fill="#1e1e1e" stroke="#1e1e1e" stroke-width="0.15">0</text>
<line x1="220.4" y1="448.7" x2="220.4" y2="514" stroke="#2a2a2a" stroke-width="1.0" />
<line x1="296.4" y1="448.7" x2="296.4" y2="514" stroke="#2a2a2a" stroke-width="1.0" />
<line x1="220.4" y1="512.4" x2="296.4" y2="512.4" stroke="#2a2a2a" stroke-width="1.0" />
<polygon points="220.40,512.40 229.40,511.00 228.50,512.40 229.40,513.80" fill="#2a2a2a" stroke="#2a2a2a" stroke-width="0.3"/>
<polygon points="296.40,512.40 287.40,513.80 288.30,512.40 287.40,511.00" fill="#2a2a2a" stroke="#2a2a2a" stroke-width="0.3"/>
<text x="257.9" y="506.3" text-anchor="middle" font-family='"Liberation Sans", sans-serif' font-size="18" font-weight="normal" fill="#1e1e1e" stroke="#1e1e1e" stroke-width="0.15">14±0.10</text>
<line x1="192.9" y1="456.5" x2="192.9" y2="546.7" stroke="#2a2a2a" stroke-width="1.0" />
<line x1="323.8" y1="456.5" x2="323.8" y2="546.7" stroke="#2a2a2a" stroke-width="1.0" />
<line x1="192.9" y1="545.4" x2="323.8" y2="545.4" stroke="#2a2a2a" stroke-width="1.0" />
<polygon points="192.90,545.40 201.90,544.00 201.00,545.40 201.90,546.80" fill="#2a2a2a" stroke="#2a2a2a" stroke-width="0.3"/>
<polygon points="323.80,545.40 314.80,546.80 315.70,545.40 314.80,544.00" fill="#2a2a2a" stroke="#2a2a2a" stroke-width="0.3"/>
<text x="240.1" y="538.8" text-anchor="middle" font-family='"Liberation Sans", sans-serif' font-size="18" font-weight="normal" fill="#1e1e1e" stroke="#1e1e1e" stroke-width="0.15">24</text>
<text x="268.95" y="529.5" text-anchor="middle" font-family='"Liberation Sans", sans-serif' font-size="12.5" font-weight="normal" fill="#1e1e1e" stroke="#1e1e1e" stroke-width="0.15">+0.50</text>
<text x="262.6" y="543.5" text-anchor="middle" font-family='"Liberation Sans", sans-serif' font-size="12.5" font-weight="normal" fill="#1e1e1e" stroke="#1e1e1e" stroke-width="0.15">0</text>
<line x1="49" y1="464.1" x2="49" y2="547" stroke="#2a2a2a" stroke-width="1.0" />
<line x1="169.2" y1="464.1" x2="169.2" y2="547" stroke="#2a2a2a" stroke-width="1.0" />
<line x1="49" y1="545.4" x2="169.2" y2="545.4" stroke="#2a2a2a" stroke-width="1.0" />
<polygon points="49.00,545.40 58.00,544.00 57.10,545.40 58.00,546.80" fill="#2a2a2a" stroke="#2a2a2a" stroke-width="0.3"/>
<polygon points="169.20,545.40 160.20,546.80 161.10,545.40 160.20,544.00" fill="#2a2a2a" stroke="#2a2a2a" stroke-width="0.3"/>
<text x="90.7" y="535.0" text-anchor="middle" font-family='"Liberation Sans", sans-serif' font-size="18" font-weight="normal" fill="#1e1e1e" stroke="#1e1e1e" stroke-width="0.15">22.2</text>
<text x="128.05" y="527.4" text-anchor="middle" font-family='"Liberation Sans", sans-serif' font-size="12.5" font-weight="normal" fill="#1e1e1e" stroke="#1e1e1e" stroke-width="0.15">+0.10</text>
<text x="122.35" y="541.9" text-anchor="middle" font-family='"Liberation Sans", sans-serif' font-size="12.5" font-weight="normal" fill="#1e1e1e" stroke="#1e1e1e" stroke-width="0.15">0</text>
<line x1="83.8" y1="359.4" x2="83.8" y2="464.1" stroke="#2a2a2a" stroke-width="1.0" />
<polygon points="83.80,359.40 85.20,368.40 83.80,367.50 82.40,368.40" fill="#2a2a2a" stroke="#2a2a2a" stroke-width="0.3"/>
<polygon points="83.80,464.10 82.40,455.10 83.80,456.00 85.20,455.10" fill="#2a2a2a" stroke="#2a2a2a" stroke-width="0.3"/>
<line x1="73.5" y1="464.1" x2="86" y2="464.1" stroke="#2a2a2a" stroke-width="1.0" />
<text transform="translate(77.1,432.65) rotate(-90)" text-anchor="middle" font-family='"Liberation Sans", sans-serif' font-size="18" font-weight="normal" fill="#1e1e1e" stroke="#1e1e1e" stroke-width="0.15">19.6</text>
<text transform="translate(66.4,398.2) rotate(-90)" text-anchor="middle" font-family='"Liberation Sans", sans-serif' font-size="12.5" font-weight="normal" fill="#1e1e1e" stroke="#1e1e1e" stroke-width="0.15">+0.10</text>
<text transform="translate(81.8,403.75) rotate(-90)" text-anchor="middle" font-family='"Liberation Sans", sans-serif' font-size="12.5" font-weight="normal" fill="#1e1e1e" stroke="#1e1e1e" stroke-width="0.15">0</text>
<polygon points="403.5,370 707.5,370 707.5,483.2 403.5,483.2" fill="none" stroke="#2a2a2a" stroke-width="1.0" />
<line x1="403.5" y1="338.3" x2="403.5" y2="370" stroke="#2a2a2a" stroke-width="1.0" />
<line x1="707.5" y1="338.3" x2="707.5" y2="370" stroke="#2a2a2a" stroke-width="1.0" />
<line x1="403.5" y1="340.4" x2="707.5" y2="340.4" stroke="#2a2a2a" stroke-width="1.0" />
<polygon points="403.50,340.40 412.50,339.00 411.60,340.40 412.50,341.80" fill="#2a2a2a" stroke="#2a2a2a" stroke-width="0.3"/>
<polygon points="707.50,340.40 698.50,341.80 699.40,340.40 698.50,339.00" fill="#2a2a2a" stroke="#2a2a2a" stroke-width="0.3"/>
<text x="558.9" y="335.7" text-anchor="middle" font-family='"Liberation Sans", sans-serif' font-size="18" font-weight="normal" fill="#1e1e1e" stroke="#1e1e1e" stroke-width="0.15">56.2</text>
<line x1="649.2" y1="370" x2="649.2" y2="483.2" stroke="#2a2a2a" stroke-width="1.0" />
<polygon points="649.20,370.00 650.60,379.00 649.20,378.10 647.80,379.00" fill="#2a2a2a" stroke="#2a2a2a" stroke-width="0.3"/>
<polygon points="649.20,483.20 647.80,474.20 649.20,475.10 650.60,474.20" fill="#2a2a2a" stroke="#2a2a2a" stroke-width="0.3"/>
<line x1="648.5" y1="370" x2="663.5" y2="370" stroke="#2a2a2a" stroke-width="0.8" />
<line x1="648.5" y1="483.2" x2="663.5" y2="483.2" stroke="#2a2a2a" stroke-width="0.8" />
<text transform="translate(641.7,426.75) rotate(-90)" text-anchor="middle" font-family='"Liberation Sans", sans-serif' font-size="18" font-weight="normal" fill="#1e1e1e" stroke="#1e1e1e" stroke-width="0.15">20.8</text>
<text x="538.8" y="434.95" text-anchor="middle" font-family='"Liberation Sans", sans-serif' font-size="18" font-weight="normal" fill="#1e1e1e" stroke="#1e1e1e" stroke-width="0.15">T=1.2~1.4mm</text>
<text x="343.6" y="608.6" text-anchor="middle" font-family='"Liberation Sans", sans-serif' font-size="32.5" font-weight="bold" fill="#1c1c1c" stroke="#1c1c1c" stroke-width="0.2">AS-09</text>
</svg>
<div class="fade"></div><div class="strip1"></div><div class="strip2"></div>
</body></html>
